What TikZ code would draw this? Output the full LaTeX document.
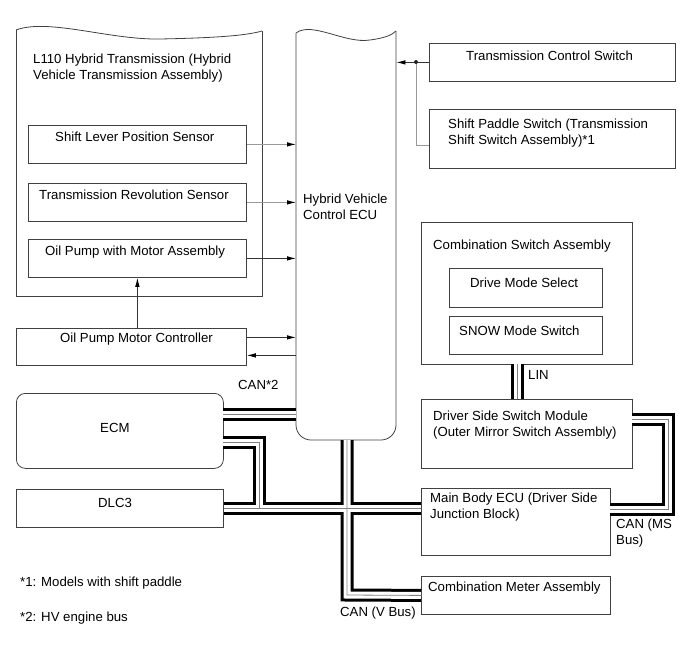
\documentclass[tikz,border=0pt]{standalone}
\usepackage{fontspec}
\setmainfont{Liberation Sans}
\usetikzlibrary{arrows.meta}
\begin{document}
\begin{tikzpicture}[x=1pt,y=-1pt,
  font=\fontsize{13.2}{16}\selectfont,
  boxline/.style={draw=black!75, line width=0.8pt},
  box/.style={boxline, inner sep=0pt, anchor=north west},
  ghost/.style={inner sep=0pt, anchor=north west},
  txt/.style={inner sep=0pt, anchor=west, align=left},
  arr/.style={draw=black!80, line width=0.8pt, -{Latex[length=9pt,width=4.5pt,color=black]}},
  garr/.style={arr, draw=black!40},
  wire/.style={draw=black!40, line width=0.9pt},
]
\useasboundingbox (0,0) rectangle (690,659);

% ---------- boxes ----------
\node[ghost, minimum width=246pt, minimum height=266pt] (trans) at (16,30) {};
\draw[boxline] (16,30) .. controls (48,18) and (110,40) .. (160,39) .. controls (210,38) and (245,36) .. (262,31);
\draw[boxline] (262,31) -- (262,296) -- (16,296) -- (16,30);

\node[box, minimum width=218pt, minimum height=38pt] (slps) at (28,125) {};
\node[box, minimum width=218pt, minimum height=38pt] (trs)  at (28,183) {};
\node[box, minimum width=218pt, minimum height=38pt] (opma) at (28,239) {};
\node[box, minimum width=230pt, minimum height=37pt] (opmc) at (16,328) {};
\node[box, minimum width=207pt, minimum height=75pt, rounded corners=9pt] (ecm) at (16,393) {};
\node[box, minimum width=207pt, minimum height=38pt] (dlc) at (16,489) {};

\node[ghost, minimum width=100pt, minimum height=408pt] (ecu) at (296,32) {};
\draw[boxline] (296,33) .. controls (312,21) and (345,44) .. (370,40) .. controls (385,38) and (392,35) .. (396,31);
\draw[boxline, rounded corners=15pt] (396,31) -- (396,440) -- (296,440) -- (296,33);

\node[box, minimum width=246pt, minimum height=38pt] (tcs) at (429,43) {};
\node[box, minimum width=246pt, minimum height=59pt] (sps) at (429,109) {};
\node[box, minimum width=211pt, minimum height=142pt] (csa) at (421,222) {};
\node[box, minimum width=153pt, minimum height=39pt] (dms) at (449,268) {};
\node[box, minimum width=153pt, minimum height=38pt] (snow) at (449,316) {};
\node[box, minimum width=211pt, minimum height=69pt] (dssm) at (421,399) {};
\node[box, minimum width=189pt, minimum height=67pt] (mbe) at (421,488) {};
\node[box, minimum width=189pt, minimum height=38pt] (cma) at (421,576) {};

% ---------- texts ----------
\node[txt] (t-trans) at (33,68) {L110 Hybrid Transmission (Hybrid\\Vehicle Transmission Assembly)};
\node[txt] (t-slps) at (55,137) {Shift Lever Position Sensor};
\node[txt] (t-trs) at (39,195) {Transmission Revolution Sensor};
\node[txt] (t-opma) at (45,252) {Oil Pump with Motor Assembly};
\node[txt] (t-opmc) at (60,339) {Oil Pump Motor Controller};
\node[txt] (t-ecm) at (100,428) {ECM};
\node[txt] (t-dlc) at (98,503) {DLC3};
\node[txt] (t-n1) at (20,583) {*1: Models with shift paddle};
\node[txt] (t-n2) at (20,618) {*2: HV engine bus};
\node[txt] (t-ecu) at (303,207) {Hybrid Vehicle\\Control ECU};
\node[txt] (t-tcs) at (466,56) {Transmission Control Switch};
\node[txt] (t-sps) at (448,133) {Shift Paddle Switch (Transmission\\Shift Switch Assembly)*1};
\node[txt] (t-csa) at (433,246) {Combination Switch Assembly};
\node[txt] (t-dms) at (470,283) {Drive Mode Select};
\node[txt] (t-snow) at (459,331) {SNOW Mode Switch};
\node[txt] (t-dssm) at (433,425) {Driver Side Switch Module\\(Outer Mirror Switch Assembly)};
\node[txt] (t-mbe) at (430,507) {Main Body ECU (Driver Side\\Junction Block)};
\node[txt] (t-cma) at (428,588) {Combination Meter Assembly};
\node[txt] (t-can2) at (238,385) {CAN*2};
\node[txt] (t-canv) at (340,613) {CAN (V Bus)};
\node[txt] (t-lin) at (528,375) {LIN};
\node[txt] (t-canms) at (616,533) {CAN (MS\\Bus)};

% ---------- bus coordinates ----------
\coordinate (ecmo1) at (223,414);
\coordinate (ecmo2) at (223,442);
\coordinate (vj1) at (259,508);
\coordinate (vk1) at (259,442);
\coordinate (ecuo) at (347,440);
\coordinate (vk2) at (347,595);
\coordinate (dssmo) at (632,419);
\coordinate (msk1) at (668,419);
\coordinate (msk2) at (668,509);
\coordinate (mbeo) at (610,509);
\coordinate (lin1) at (517,364);
\coordinate (lin2) at (517,399);

\foreach \w/\c in {13/black, 7/white, 0.8/black!50} {
  \draw[line width=\w pt, draw=\c, line join=miter, line cap=butt]
    (ecmo1) -- (ecmo1 -| ecu.west);
  \draw[line width=\w pt, draw=\c, line join=miter, line cap=butt]
    (ecmo2) -- (vk1) -- (vj1);
  \draw[line width=\w pt, draw=\c, line join=miter, line cap=butt]
    (dlc.east) -- (mbe.west |- dlc.east);
  \draw[line width=\w pt, draw=\c, line join=miter, line cap=butt]
    (ecuo) -- (vk2) -- (cma.west);
  \draw[line width=\w pt, draw=\c, line join=miter, line cap=butt]
    (dssmo) -- (msk1) -- (msk2) -- (mbeo);
  \draw[line width=\w pt, draw=\c, line join=miter, line cap=butt]
    (lin1) -- (lin2);
}

% ---------- arrows ----------
\draw[garr] (slps.east) -- (slps.east -| ecu.west);
\draw[garr] (trs.east) -- (trs.east -| ecu.west);
\draw[arr] (opma.east) -- (opma.east -| ecu.west);
\draw[arr] ([yshift=9.5pt]opmc.east) -- ([yshift=9.5pt]opmc.east -| ecu.west);
\draw[arr] ([yshift=-8.5pt]opmc.east -| ecu.west) -- ([yshift=-8.5pt]opmc.east);
\draw[arr] (opmc.north -| opma.south) -- (opma.south);

\draw[arr] (tcs.west) -- (tcs.west -| ecu.east);
\coordinate (jn) at (416,62);
\coordinate (spsin) at (429,145);
\draw[wire] (jn) |- (spsin);
\fill[black!85] (jn) circle (2pt);
\end{tikzpicture}
\end{document}
